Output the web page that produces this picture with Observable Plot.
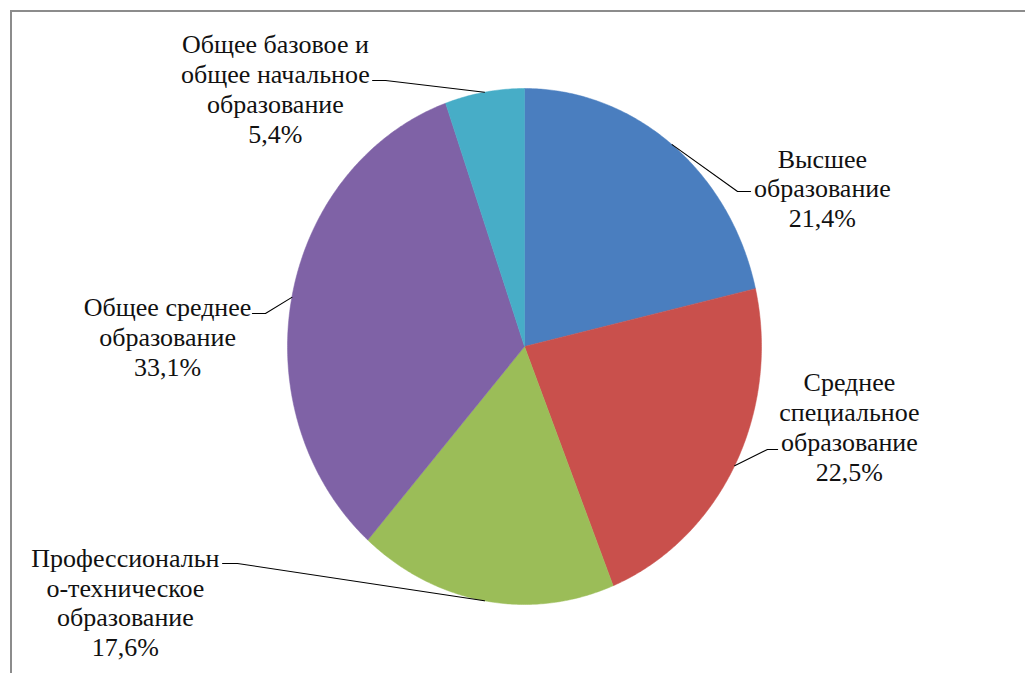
<!DOCTYPE html>
<html>
<head>
<meta charset="utf-8">
<script src="https://cdn.jsdelivr.net/npm/d3@7"></script>
<script src="https://cdn.jsdelivr.net/npm/@observablehq/plot@0.6"></script>
<style>
  html, body { margin: 0; padding: 0; background: #fff; }
  #wrap { position: relative; width: 1025px; height: 673px; overflow: hidden; }
  #frame { position: absolute; left: 10px; top: 10px; width: 1100px; height: 700px;
           border-top: 2px solid #8c8c8c; border-left: 2px solid #8c8c8c; box-sizing: border-box; }
  #chart { position: absolute; left: 0; top: 0; }
  #chart svg text { font-family: "Liberation Serif", "Times New Roman", "DejaVu Serif", serif !important; }
</style>
</head>
<body>
<div id="wrap"><div id="frame"></div><div id="chart"></div></div>
<script>
// ---- data ----
const categories = [
  "Высшее образование",
  "Среднее специальное образование",
  "Профессионально-техническое образование",
  "Общее среднее образование",
  "Общее базовое и общее начальное образование"
];
const labelLines = [
  ["Высшее", "образование"],
  ["Среднее", "специальное", "образование"],
  ["Профессиональн", "о-техническое", "образование"],
  ["Общее среднее", "образование"],
  ["Общее базовое и", "общее начальное", "образование"]
];
const values = [21.4, 22.5, 17.6, 33.1, 5.4];
const colors = ["#4a7ebf", "#c9504c", "#9bbd58", "#7f62a6", "#47adc7"];

// ---- layout (pie units: radius = 1) ----
const labelPos = [[1.257, 0.615], [1.371, -0.31], [-1.684, -0.99], [-1.506, 0.04], [-1.051, 1.0]];
const leaderElbow = [[0.899, 0.601], [1.025, -0.399], [-1.211, -0.841], [-1.093, 0.128], [-0.586, 1.031]];
const leaderEnd = [[0.954, 0.601], [1.068, -0.399], [-1.274, -0.841], [-1.148, 0.128], [-0.641, 1.031]];

// ---- build geometry from data ----
const total = d3.sum(values);
const slices = [];
const leaders = [];
let acc = 0;
values.forEach((v, i) => {
  const a0 = acc / total * 2 * Math.PI;
  acc += v;
  const a1 = acc / total * 2 * Math.PI;
  const n = Math.max(2, Math.ceil((a1 - a0) / (Math.PI / 360)));
  slices.push({name: categories[i], x: 0, y: 0});
  for (let k = 0; k <= n; k++) {
    const a = a0 + (a1 - a0) * k / n;
    slices.push({name: categories[i], x: Math.sin(a), y: Math.cos(a)});
  }
  slices.push({name: categories[i], x: 0, y: 0});
  const am = (a0 + a1) / 2;
  leaders.push({name: categories[i], x: Math.sin(am), y: Math.cos(am)});
  leaders.push({name: categories[i], x: leaderElbow[i][0], y: leaderElbow[i][1]});
  leaders.push({name: categories[i], x: leaderEnd[i][0], y: leaderEnd[i][1]});
});
const labels = categories.map((c, i) => ({
  name: c,
  x: labelPos[i][0],
  y: labelPos[i][1],
  text: labelLines[i].join("\n") + "\n" + values[i].toFixed(1).replace(".", ",") + "%"
}));

const chart = Plot.plot({
  width: 1025,
  height: 673,
  margin: 0,
  style: {background: "transparent", overflow: "visible", fontFamily: "'Liberation Serif', 'Times New Roman', serif"},
  x: {domain: [-1, 1], range: [287, 761], axis: null},
  y: {domain: [-1, 1], range: [604, 88], axis: null},
  color: {domain: categories, range: colors},
  marks: [
    Plot.line(slices, {x: "x", y: "y", z: "name", fill: "name", stroke: "name", strokeWidth: 0.5, curve: "linear"}),
    Plot.line(leaders, {x: "x", y: "y", z: "name", stroke: "#000", strokeWidth: 1.1}),
    Plot.text(labels, {x: "x", y: "y", text: "text", fontFamily: "Liberation Serif", fontSize: 26,
      lineHeight: 1.15, lineAnchor: "middle", textAnchor: "middle", fill: "#111"})
  ]
});
document.getElementById("chart").appendChild(chart);
</script>
</body>
</html>
